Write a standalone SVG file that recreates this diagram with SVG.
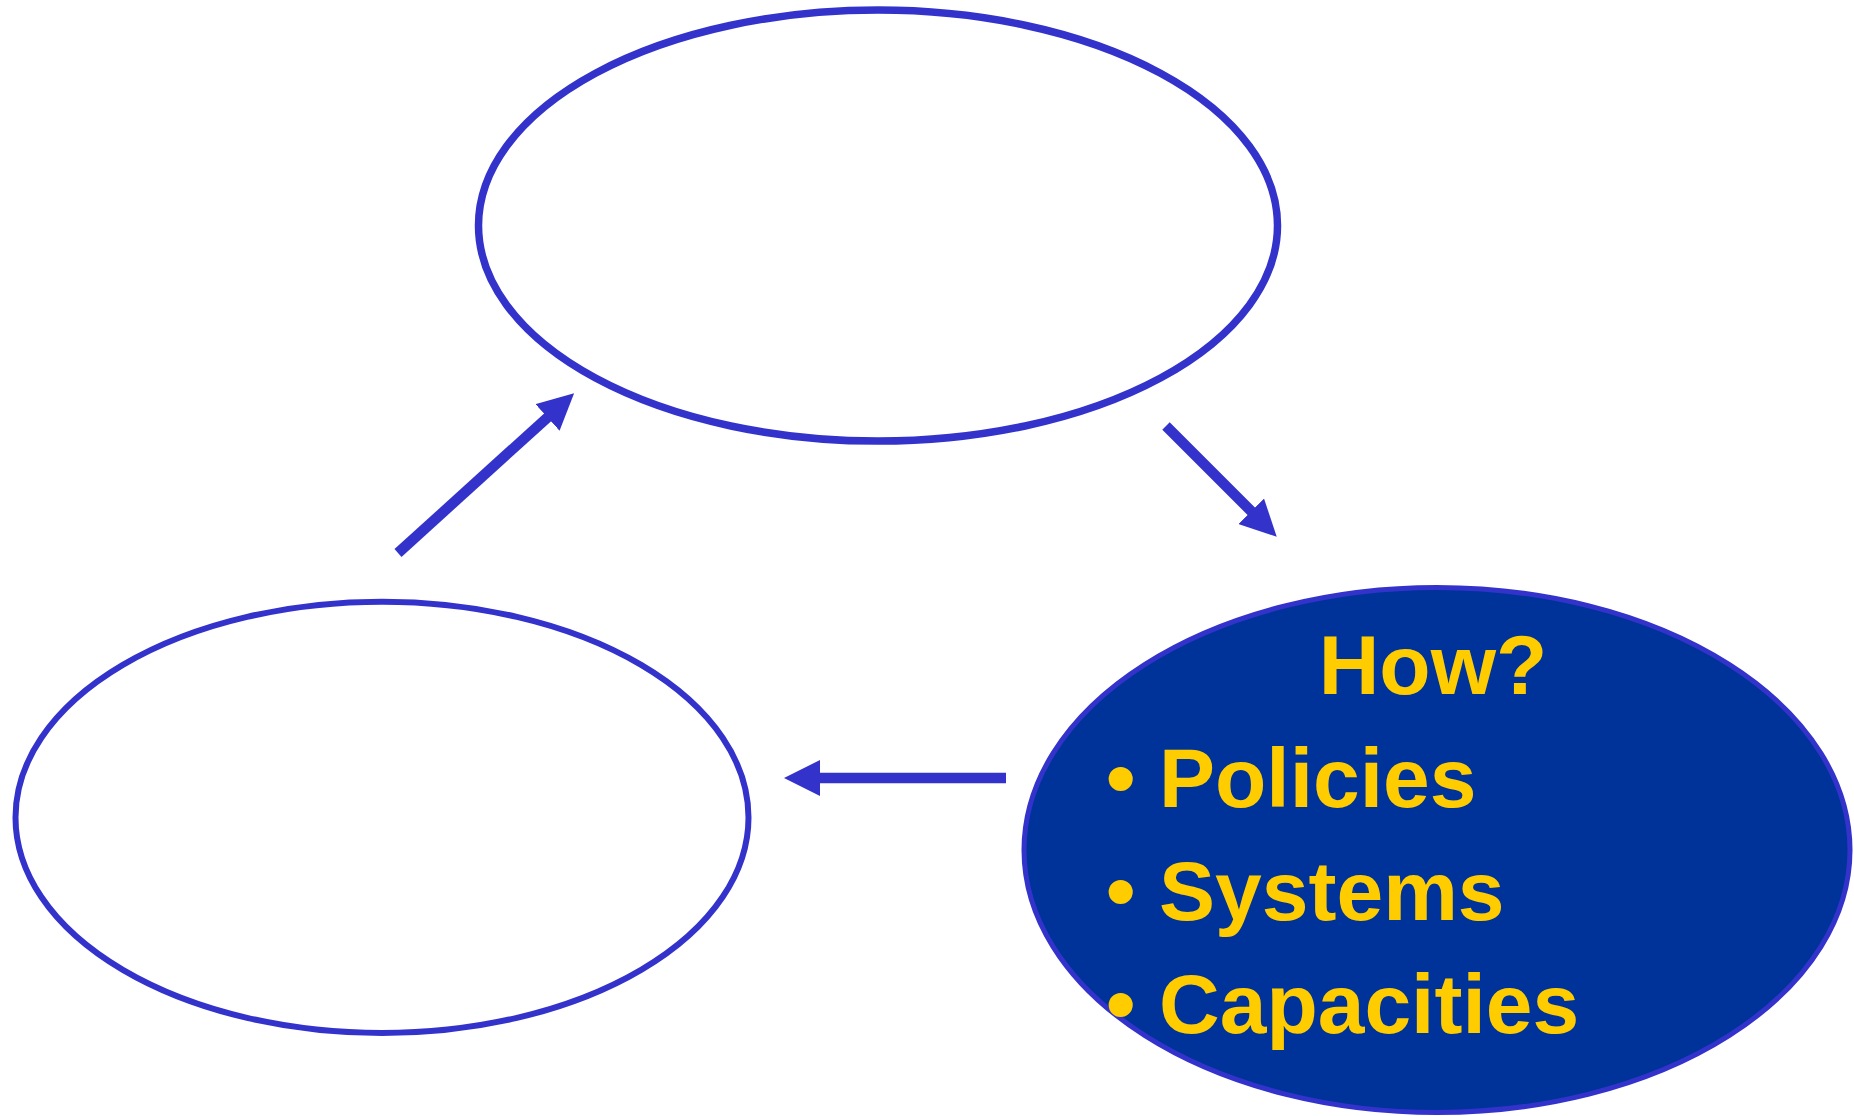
<svg xmlns="http://www.w3.org/2000/svg" width="1854" height="1116" viewBox="0 0 1854 1116">
  <style>
    .outline { fill: #FFFFFF; stroke: #3333CC; }
    .filled { fill: #003399; stroke: #3333CC; stroke-width: 5; }
    .conn { stroke: #3333CC; stroke-width: 10.5; fill: none; marker-end: url(#head); }
    .txt { font-family: "Liberation Sans", Arial, sans-serif; font-weight: bold; font-size: 84px; fill: #FFCC00; }
  </style>
  <defs>
    <marker id="head" markerUnits="userSpaceOnUse" markerWidth="36" markerHeight="36" viewBox="0 0 36 36" refX="1" refY="18" orient="auto">
      <path d="M0,0 L36,18 L0,36 Z" fill="#3333CC"/>
    </marker>
  </defs>
  <rect x="0" y="0" width="1854" height="1116" fill="#FFFFFF"/>

  <g id="node-top">
    <ellipse class="outline" cx="878" cy="225.6" rx="399.5" ry="215.5" stroke-width="7.5"/>
  </g>

  <g id="node-left">
    <ellipse class="outline" cx="382" cy="817.4" rx="366.5" ry="215.6" stroke-width="6"/>
  </g>

  <g id="node-how">
    <ellipse class="filled" cx="1437" cy="850" rx="413" ry="262.5"/>
    <text class="txt" x="1433" y="694" text-anchor="middle">How?</text>
    <text class="txt" x="1106" y="807">•</text>
    <text class="txt" x="1159" y="807">Policies</text>
    <text class="txt" x="1106" y="920">•</text>
    <text class="txt" x="1159" y="920">Systems</text>
    <text class="txt" x="1106" y="1033">•</text>
    <text class="txt" x="1159" y="1033">Capacities</text>
  </g>

  <g id="connectors">
    <line class="conn" x1="398" y1="553" x2="548.2" y2="416.8"/>
    <line class="conn" x1="1166" y1="426" x2="1252" y2="512"/>
    <line class="conn" x1="1006" y1="778" x2="819" y2="778"/>
  </g>
</svg>
